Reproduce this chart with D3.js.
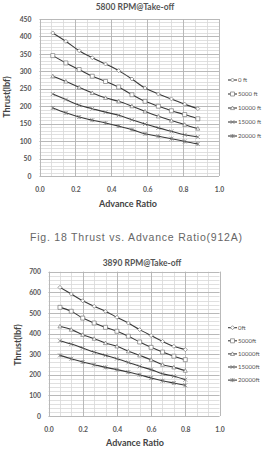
<!DOCTYPE html>
<html><head><meta charset="utf-8">
<script src="https://cdn.jsdelivr.net/npm/d3@7"></script>
<style>
html,body{margin:0;padding:0;background:#fff;}
svg{display:block;}
</style></head>
<body>
<svg id="c" width="268" height="462"></svg>
<script>
// ---------- DATA ----------
const seriesNames1 = ["0 ft","5000 ft","10000 ft","15000 ft","20000 ft"];
const seriesNames2 = ["0ft","5000ft","10000ft","15000ft","20000ft"];
const markerTypes = ["diamond","square","triangle","x","star"];

const advance1 = [0.074,0.147,0.221,0.294,0.368,0.441,0.515,0.588,0.662,0.735,0.809,0.882];
const thrust1_0 = [410,386,359,339,321,302,278,252,235,221,206,193];
const thrust1_5000 = [345,324,305,286,271,255,233,214,200,187,176,164];
const thrust1_10000 = [286,271,254,238,224,214,200,185,171,159,147,136];
const thrust1_15000 = [235,219,203,193,183,174,161,149,138,128,118,112];
const thrust1_20000 = [195,181,169,160,152,143,133,121,114,107,99,92];

const advance2 = [0.067,0.133,0.2,0.267,0.333,0.4,0.467,0.533,0.6,0.667,0.733,0.8];
const thrust2_0 = [624,592,559,532,508,479,451,419,390,362,338,322];
const thrust2_5000 = [527,508,475,451,430,411,387,359,333,310,290,273];
const thrust2_10000 = [435,419,394,375,354,338,314,294,273,249,236,220];
const thrust2_15000 = [365,349,330,310,294,278,260,241,225,205,193,176];
const thrust2_20000 = [294,278,262,249,236,225,213,200,184,171,160,149];

const xTicks = [0,0.2,0.4,0.6,0.8,1.0];
const yTicks1 = [0,50,100,150,200,250,300,350,400,450];
const yTicks2 = [0,100,200,300,400,500,600,700];

const title1 = "5800 RPM@Take-off";
const title2 = "3890 RPM@Take-off";
const caption = "Fig. 18 Thrust vs. Advance Ratio(912A)";
const yTitle = "Thrust(lbf)";
const xTitle = "Advance Ratio";

// ---------- DRAW ----------
const svg = d3.select("#c");
const FONT = "Lato, 'Open Sans', 'Liberation Sans', sans-serif";

function markerPath(type, s){
  const h = s/2;
  switch(type){
    case "diamond": return `M0,${-h}L${h},0L0,${h}L${-h},0Z`;
    case "square": return `M${-h},${-h}H${h}V${h}H${-h}Z`;
    case "triangle": return `M0,${-h}L${h},${h*0.8}L${-h},${h*0.8}Z`;
    case "x": return `M${-h},${-h}L${h},${h}M${h},${-h}L${-h},${h}`;
    case "star": return `M${-h},${-h}L${h},${h}M${h},${-h}L${-h},${h}M0,${-h}V${h}`;
  }
}

function drawChart(cfg){
  const g = svg.append("g");
  const x = d3.scaleLinear().domain([0,1]).range([cfg.left, cfg.right]);
  const y = d3.scaleLinear().domain([0, cfg.yMax]).range([cfg.bottom, cfg.top]);

  const minorX = d3.range(0, 1.0001, cfg.xMinor);
  const minorY = d3.range(0, cfg.yMax + 0.001, cfg.yMinor);
  g.append("g").selectAll("line").data(minorX).join("line")
    .attr("x1", d => Math.round(x(d))+0.5).attr("x2", d => Math.round(x(d))+0.5)
    .attr("y1", cfg.top).attr("y2", cfg.bottom)
    .attr("stroke", "#d8d8d8").attr("stroke-width", 0.8);
  g.append("g").selectAll("line").data(minorY).join("line")
    .attr("y1", d => Math.round(y(d))+0.5).attr("y2", d => Math.round(y(d))+0.5)
    .attr("x1", cfg.left).attr("x2", cfg.right)
    .attr("stroke", "#d8d8d8").attr("stroke-width", 0.8);
  g.append("g").selectAll("line").data(xTicks).join("line")
    .attr("x1", d => Math.round(x(d))+0.5).attr("x2", d => Math.round(x(d))+0.5)
    .attr("y1", cfg.top).attr("y2", cfg.bottom)
    .attr("stroke", "#b4b4b4").attr("stroke-width", 0.9);
  g.append("g").selectAll("line").data(cfg.yTicks).join("line")
    .attr("y1", d => Math.round(y(d))+0.5).attr("y2", d => Math.round(y(d))+0.5)
    .attr("x1", cfg.left).attr("x2", cfg.right)
    .attr("stroke", "#b4b4b4").attr("stroke-width", 0.9);

  const ya = g.append("g").attr("transform", `translate(${cfg.left},0)`)
    .call(d3.axisLeft(y).tickValues(cfg.yTicks).tickSize(0).tickPadding(cfg.yPad).tickFormat(d3.format("d")));
  ya.select(".domain").remove();
  ya.selectAll("text").attr("font-family", FONT).attr("font-weight", "bold")
    .attr("font-size", 6.8).attr("fill", "#555");
  const xa = g.append("g").attr("transform", `translate(0,${cfg.bottom})`)
    .call(d3.axisBottom(x).tickValues(xTicks).tickSize(0).tickPadding(cfg.xPad).tickFormat(d3.format(".1f")));
  xa.select(".domain").remove();
  xa.selectAll("text").attr("font-family", FONT).attr("font-weight", "bold")
    .attr("font-size", 6.8).attr("fill", "#555");

  g.append("text").attr("x", cfg.titleX).attr("y", cfg.titleY).attr("text-anchor", "middle")
    .attr("font-family", FONT).attr("font-weight", "bold").attr("font-size", 8.5).attr("fill", "#555")
    .text(cfg.title);
  g.append("text").attr("transform", `translate(${cfg.yTitleX},${cfg.yTitleY}) rotate(-90)`)
    .attr("text-anchor", "middle").attr("font-family", FONT).attr("font-weight", "bold")
    .attr("font-size", 9).attr("fill", "#444").text(yTitle);
  g.append("text").attr("x", cfg.xTitleX).attr("y", cfg.xTitleY).attr("text-anchor", "middle")
    .attr("font-family", FONT).attr("font-weight", "bold").attr("font-size", 9).attr("fill", "#444")
    .text(xTitle);

  const line = d3.line().x(d => x(d[0])).y(d => y(d[1])).curve(d3.curveCatmullRom.alpha(0.5));
  cfg.series.forEach((vals, i) => {
    const pts = cfg.xs.map((xv, j) => [xv, vals[j]]);
    g.append("path").datum(pts).attr("d", line).attr("fill", "none")
      .attr("stroke", "#3a3a3a").attr("stroke-width", 1.1);
    g.append("g").selectAll("path").data(pts).join("path")
      .attr("transform", d => `translate(${x(d[0])},${y(d[1])})`)
      .attr("d", markerPath(markerTypes[i], 4))
      .attr("fill", (markerTypes[i]==="x"||markerTypes[i]==="star") ? "none" : "#fff")
      .attr("stroke", "#777").attr("stroke-width", 0.7);
    const ly = cfg.legY + i * cfg.legStep;
    g.append("line").attr("x1", cfg.legX).attr("x2", cfg.legX + 9).attr("y1", ly).attr("y2", ly)
      .attr("stroke", "#3a3a3a").attr("stroke-width", 1.1);
    g.append("path").attr("transform", `translate(${cfg.legX + 4.5},${ly})`)
      .attr("d", markerPath(markerTypes[i], 4))
      .attr("fill", (markerTypes[i]==="x"||markerTypes[i]==="star") ? "none" : "#fff")
      .attr("stroke", "#777").attr("stroke-width", 0.7);
    g.append("text").attr("x", cfg.legX + 10).attr("y", ly).attr("dy", "0.35em")
      .attr("font-family", FONT).attr("font-size", 6).attr("fill", "#555")
      .text(cfg.names[i]);
  });
}

drawChart({
  left: 39.5, right: 219, top: 19, bottom: 176, yMax: 450,
  xMinor: 0.2/3, yMinor: 10, yTicks: yTicks1, yPad: 8, xPad: 11,
  title: title1, titleX: 135, titleY: 10,
  yTitleX: 10, yTitleY: 97, xTitleX: 128, xTitleY: 207,
  xs: advance1,
  series: [thrust1_0, thrust1_5000, thrust1_10000, thrust1_15000, thrust1_20000],
  names: seriesNames1, legX: 228, legY: 80, legStep: 14
});

svg.append("text").attr("x", 30).attr("y", 240.5)
  .attr("font-family", "'Liberation Sans', Arial, sans-serif").attr("font-size", 10.5)
  .attr("fill", "#666").attr("textLength", 212).attr("lengthAdjust", "spacing")
  .text(caption);

drawChart({
  left: 48.5, right: 219.5, top: 271.7, bottom: 416, yMax: 700,
  xMinor: 0.2/3, yMinor: 20, yTicks: yTicks2, yPad: 7.5, xPad: 11,
  title: title2, titleX: 142, titleY: 265.5,
  yTitleX: 21, yTitleY: 345, xTitleX: 135, xTitleY: 445.5,
  xs: advance2,
  series: [thrust2_0, thrust2_5000, thrust2_10000, thrust2_15000, thrust2_20000],
  names: seriesNames2, legX: 228, legY: 327.7, legStep: 13.1
});
</script>
</body></html>
